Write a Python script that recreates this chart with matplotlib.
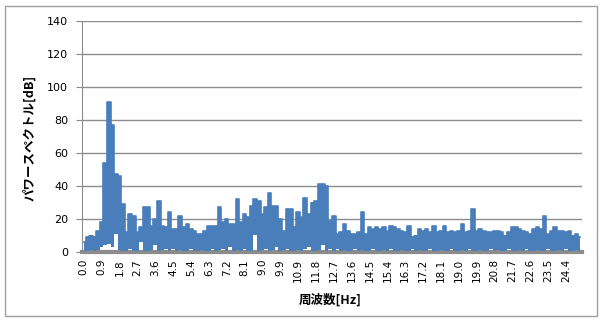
import numpy as np
import matplotlib
matplotlib.use("Agg")
import matplotlib.pyplot as plt
from matplotlib.patches import Rectangle

# power spectrum (dB): per-bin maximum and minimum of the trace
peak_db = [
    6, 9, 10, 9, 13, 18, 54, 91, 77, 47,
    46, 29, 12, 23, 22, 12, 15, 27, 27, 16,
    20, 31, 16, 15, 24, 14, 14, 22, 15, 17,
    14, 13, 11, 11, 13, 16, 16, 16, 27, 18,
    20, 17, 17, 32, 18, 23, 21, 28, 32, 31,
    23, 27, 36, 28, 28, 20, 13, 26, 26, 15,
    24, 21, 33, 23, 30, 31, 41, 41, 40, 19,
    22, 11, 12, 17, 13, 11, 11, 12, 24, 11,
    15, 14, 15, 14, 15, 13, 16, 15, 14, 13,
    12, 16, 9, 10, 14, 13, 14, 12, 16, 12,
    13, 16, 12, 13, 12, 13, 17, 12, 13, 26,
    13, 14, 13, 12, 12, 13, 13, 12, 10, 12,
    15, 15, 14, 13, 12, 11, 14, 15, 14, 22,
    11, 13, 15, 13, 13, 12, 13, 10, 11, 9,
]
floor_db = [
    0.5, 0.5, 1, 0.5, 1, 3, 4, 5, 3, 11,
    1, 0.5, 0.5, 2, 0.5, 0.5, 6, 0.5, 0.5, 1,
    4, 0.5, 1, 2, 0.5, 2, 0.5, 1, 0.5, 0.5,
    2, 0.5, 0.5, 1, 0.5, 0.5, 2, 0.5, 1, 2,
    0.5, 3, 0.5, 1, 0.5, 2, 0.5, 0.5, 10, 0.5,
    1, 2, 0.5, 1, 3, 0.5, 1, 2, 0.5, 0.5,
    1, 0.5, 2, 3, 0.5, 0.5, 1, 4, 0.5, 2,
    0.5, 2, 0.5, 1, 0.5, 0.5, 2, 0.5, 1, 0.5,
    0.5, 2, 0.5, 0.5, 1, 0.5, 2, 0.5, 0.5, 1,
    0.5, 0.5, 2, 0.5, 1, 0.5, 0.5, 2, 0.5, 0.5,
    1, 0.5, 0.5, 2, 0.5, 0.5, 1, 0.5, 2, 0.5,
    0.5, 1, 0.5, 0.5, 2, 0.5, 1, 0.5, 0.5, 2,
    0.5, 0.5, 1, 0.5, 2, 0.5, 0.5, 1, 0.5, 0.5,
    2, 0.5, 0.5, 1, 0.5, 2, 0.5, 0.5, 1, 0.5,
]
freq_labels = ["0.0", "0.9", "1.8", "2.7", "3.6", "4.5", "5.4", "6.3", "7.2",
               "8.1", "9.0", "9.9", "10.9", "11.8", "12.7", "13.6", "14.5",
               "15.4", "16.3", "17.2", "18.1", "19.0", "19.9", "20.8", "21.7",
               "22.6", "23.5", "24.4"]
label_step = 5  # one label every 5 bins
y_ticks = [0, 20, 40, 60, 80, 100, 120, 140]

cjk = ["Noto Sans CJK JP", "DejaVu Sans"]
blue = "#4a7ebb"

fig = plt.figure(figsize=(6.03, 3.21), dpi=100)
ax = fig.add_axes([82/603, 1-252/321, 500/603, 231/321])

x = np.arange(len(peak_db))
ax.fill_between(x, floor_db, peak_db, step="mid", color=blue, lw=0, zorder=3)
ax.step(x, peak_db, where="mid", color=blue, lw=1.2, zorder=3)

ax.set_ylim(0, 140)
ax.set_xlim(-0.5, len(peak_db) - 0.5)
ax.set_yticks(y_ticks)
ax.set_yticklabels([str(v) for v in y_ticks], fontsize=8)
ax.set_xticks(np.arange(len(freq_labels)) * label_step)
ax.set_xticklabels(freq_labels, rotation=90, fontsize=7.5, va="top")
ax.tick_params(axis="x", length=0, pad=5)
ax.tick_params(axis="y", length=4, color="#888888", pad=6)
ax.grid(axis="y", color="#8c8c8c", lw=1.0, zorder=0)
ax.set_axisbelow(True)
for s in ["top", "right"]:
    ax.spines[s].set_visible(False)
ax.spines["left"].set_color("#8c8c8c")
ax.spines["bottom"].set_color("#8c8c8c")
ax.spines["bottom"].set_linewidth(3)
ax.spines["bottom"].set_zorder(2)

fig.text(30/603, 1-138/321, "パワースペクトル[dB]", rotation=90, ha="center", va="center",
         fontsize=9, fontweight="bold", family=cjk)
fig.text(330/603, 1-300/321, "周波数[Hz]", ha="center", va="center",
         fontsize=9, fontweight="bold", family=cjk)

fig.patches.append(Rectangle((5/603, 1-316/321), 592/603, 310/321, transform=fig.transFigure,
                             fill=False, edgecolor="#a0a0a0", lw=1))

fig.savefig("out.png", dpi=100)
